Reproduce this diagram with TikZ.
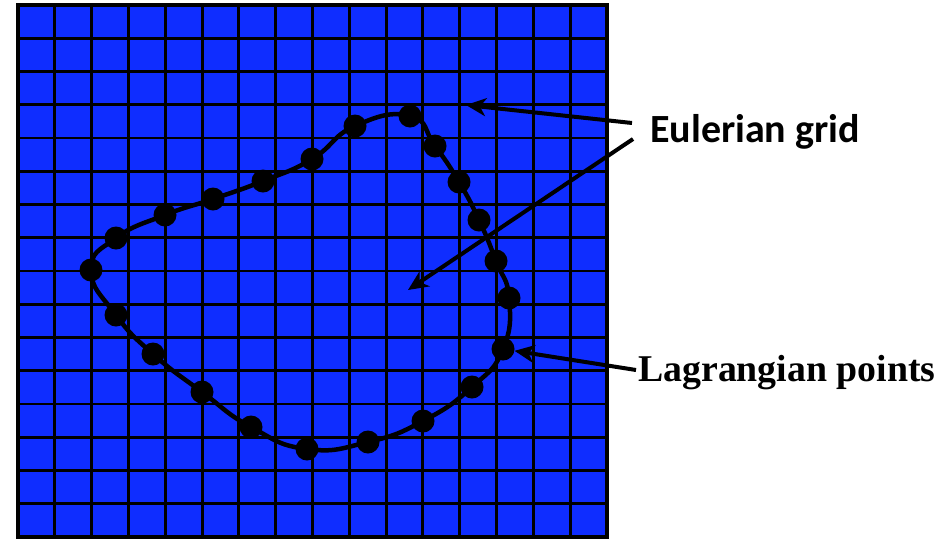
\documentclass[tikz,border=0pt]{standalone}
\usepackage{fontspec}
\usetikzlibrary{arrows.meta}
\newfontfamily\calibrifont{Carlito}
\newfontfamily\timesfont{Liberation Serif}
\definecolor{gridblue}{RGB}{15,45,255}

\tikzset{
    gridline/.style={line width=2.9pt, black},
    dot/.style={circle, fill=black, inner sep=0pt, minimum size=23pt},
    pointer/.style={line width=4pt, -{Stealth[length=20pt,width=18pt,inset=6pt]}},
}

\begin{document}
\begin{tikzpicture}[x=1pt, y=-1pt]
    \useasboundingbox (0,0) rectangle (947,539);

    % Draw the blue field with the grid lines
    \fill[gridblue] (18,5) rectangle (607,537);
    \foreach \i in {1,...,15}
        \draw[gridline] ({18+\i*36.8125},5) -- ({18+\i*36.8125},537);
    \foreach \j in {1,...,15}
        \draw[gridline] (18,{5+\j*33.25}) -- (607,{5+\j*33.25});
    \draw[line width=4pt] (18,5) rectangle (607,537);

    % Points on the closed curve
    \foreach \n/\x/\y in {1/410/116, 2/435/146, 3/459/182, 4/479/220, 5/496/261,
                          6/509/298, 7/503/349, 8/472/387, 9/423/421, 10/368/442,
                          11/307/449, 12/251/427, 13/202/392, 14/153/354, 15/116/315,
                          16/91/270, 17/116/238, 18/165/215, 19/213/199, 20/263/181,
                          21/312/159, 22/355/126}
        \coordinate (c\n) at (\x,\y);

    % Draw the curve through the points
    \draw[line width=4.5pt] plot[smooth cycle, tension=0.85] coordinates {
        (c1) (c2) (c3) (c4) (c5) (c6) (c7) (c8) (c9) (c10) (c11)
        (c12) (c13) (c14) (c15) (c16) (c17) (c18) (c19) (c20) (c21) (c22)};

    \foreach \n in {1,...,22}
        \node[dot] (p\n) at (c\n) {};

    % Labels
    \node[anchor=base west, inner sep=0pt, font=\calibrifont\bfseries\fontsize{40}{44}\selectfont]
        (euler) at (650,142) {Eulerian grid};
    \node[anchor=base west, inner sep=0pt, font=\timesfont\bfseries\fontsize{37.8}{40}\selectfont]
        (lagrange) at (638,381) {Lagrangian points};

    % Arrows
    \coordinate (eA) at ([xshift=-18pt, yshift=19pt]euler.base west);
    \coordinate (eB) at ([xshift=-17pt, yshift=3pt]euler.base west);
    \coordinate (lA) at ([xshift=-2pt, yshift=11pt]lagrange.base west);
    \coordinate (gridA) at (466,105);
    \coordinate (gridB) at (408,290);
    \draw[pointer] (eA) -- (gridA);
    \draw[pointer] (eB) -- (gridB);
    \draw[pointer] (lA) -- (p7);
\end{tikzpicture}
\end{document}
